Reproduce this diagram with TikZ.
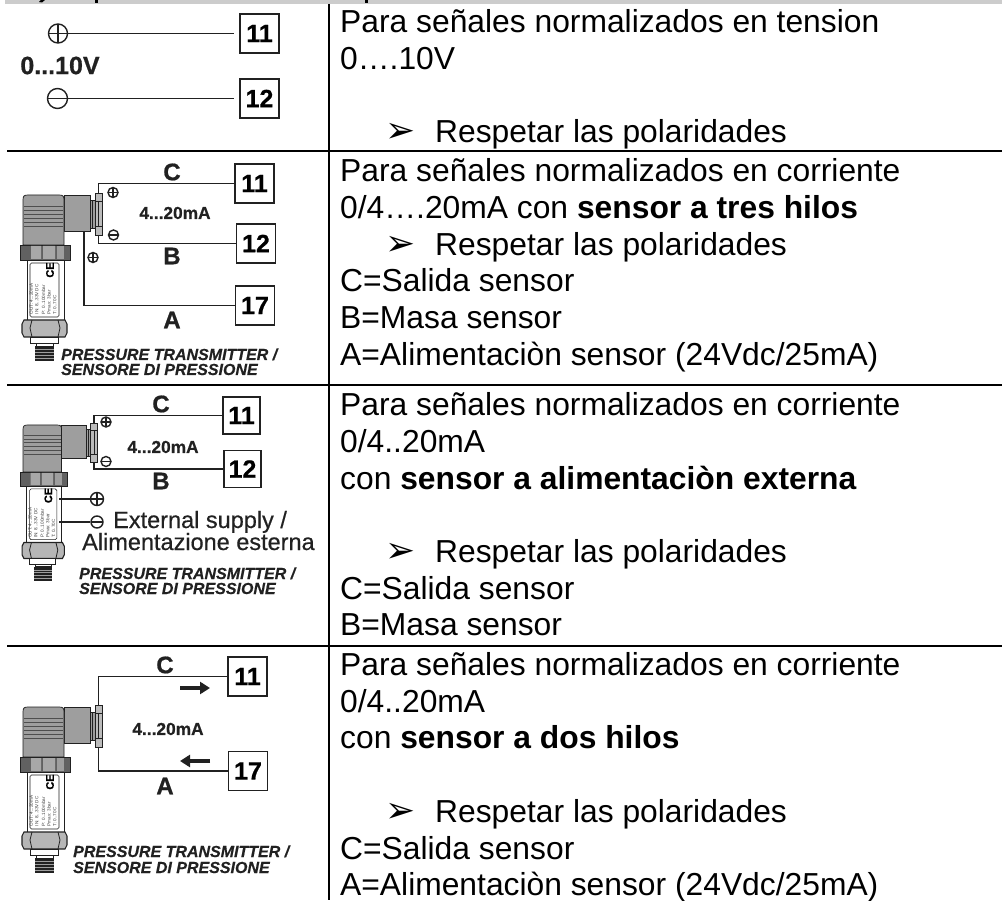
\documentclass[tikz,border=0pt]{standalone}
\usepackage{fontspec}
\setmainfont{Liberation Sans}
\newfontfamily\djv{DejaVu Sans}
\newfontfamily\hv{Liberation Sans Bold}[FakeBold=0.7]
\newfontfamily\hvi{Liberation Sans Bold Italic}[FakeBold=0.4]
\newfontfamily\hvr{Liberation Sans}[FakeBold=0.5]
\usetikzlibrary{arrows.meta}
\definecolor{bandgray}{gray}{0.8}
\definecolor{bodygray}{gray}{0.62}
\definecolor{darkgray1}{gray}{0.38}
\definecolor{wirec}{gray}{0.13}
\tikzset{
  tl/.style={anchor=base west,inner sep=0pt,font=\fontsize{31.8}{37}\selectfont},
  tb/.style={draw=wirec,line width=1.5pt,fill=white,inner sep=0pt,font=\hv\fontsize{25}{26}\selectfont},
  wire/.style={draw=wirec,line width=1.6pt},
  rule/.style={draw=black,line width=2pt},
  big/.style={inner sep=0pt,font=\hv\fontsize{24}{26}\selectfont,text=wirec},
  ma/.style={inner sep=0pt,font=\hv\fontsize{17.3}{18}\selectfont,text=wirec},
  ital/.style={inner sep=0pt,anchor=base west,font=\hvi\fontsize{16}{17}\selectfont,text=wirec},
  polp/.style={circle,draw=wirec,line width=1.4pt,fill=white,inner sep=0pt,path picture={
    \draw[wirec,line width=1.3pt] (path picture bounding box.west)--(path picture bounding box.east)
      (path picture bounding box.north)--(path picture bounding box.south);}},
  polm/.style={circle,draw=wirec,line width=1.4pt,fill=white,inner sep=0pt,path picture={
    \draw[wirec,line width=1.3pt] (path picture bounding box.west)--(path picture bounding box.east);}},
  bull/.style={inner sep=0pt,anchor=base west,font=\djv\fontsize{36}{36}\selectfont},
  sensor/.pic={
    % side housing
    \draw[wirec,line width=.7pt,fill=bodygray] (41,0) -- (67,0) -- (67,36) -- (41,36) -- cycle;
    % gland
    \draw[wirec,line width=.6pt,fill=bodygray] (67,5) rectangle (72,33);
    \draw[wirec,line width=.5pt] (69.5,5) -- (69.5,33);
    % terminal strip
    \draw[wirec,line width=.9pt,fill=bodygray!70] (72,-2) rectangle (79,40);
    \draw[wirec,line width=.7pt] (72,6) -- (79,6) (72,31) -- (79,31) (75.5,6) -- (75.5,31);
    % dome
    \draw[wirec,line width=.7pt,fill=bodygray] (0,50) -- (0,5) .. controls (0,1) and (1,0) .. (5,0) -- (36,0) .. controls (40,0) and (41,1) .. (41,5) -- (41,50) -- cycle;
    \foreach \yy in {11,15,19,23,27,31}{\draw[wirec!80,line width=.9pt] (1,\yy) -- (40,\yy);}
    % nut
    \draw[wirec,line width=.7pt,fill=darkgray1] (-3,50) rectangle (47,65);
    \fill[bodygray!90] (8,51) rectangle (18,64) (20,51) rectangle (32,64);
    \fill[bodygray] (34,51) rectangle (41,64);
    % body
    \draw[wirec,line width=.9pt,fill=white] (4,65) rectangle (41,125);
    \draw[wirec,line width=.6pt,rounded corners=1.5pt,fill=white] (7,68) rectangle (36,122);
    \node[inner sep=0pt,rotate=90,font=\hv\fontsize{11}{11}\selectfont] (-ce) at (27,75) {CE};
    \node[inner sep=0pt,rotate=90,align=left,anchor=center,text=black!75,font=\fontsize{4.6}{5.6}\selectfont] (-lab) at (20,104) {OUT: 4...20mA\\IN: 8...33V DC\\[1pt]P: 0..100mbar\\Pmax: 3bar\\T: 0..70C};
    % hex
    \draw[wirec,line width=1.1pt,fill=bodygray!75] (1,125) -- (42,125) -- (44,129) -- (44,138) -- (42,142) -- (1,142) -- (-1,138) -- (-1,129) -- cycle;
    \draw[wirec,line width=.8pt] (9,125) -- (7,133) -- (9,142) (35,125) -- (37,133) -- (35,142);
    % collar
    \draw[wirec,line width=.9pt,fill=white] (7,142) rectangle (35,148);
    \draw[wirec,line width=.9pt,fill=white] (13,148) rectangle (30,151);
    % thread
    \fill[wirec] (12,151) rectangle (31,166);
    \foreach \yy in {154,157,160,163}{\draw[bodygray,line width=.5pt] (12,\yy) -- (31,\yy);}
    \coordinate (-top) at (75.5,-2);
    \coordinate (-bot) at (75.5,40);
    \coordinate (-side) at (61,36);
  }
}
\begin{document}
\begin{tikzpicture}[x=1pt,y=-1pt]
\useasboundingbox (0,0) rectangle (1002,901);
\fill[white] (0,0) rectangle (1002,901);
% header band with the cut-off descenders of its title
\fill[bandgray] (5,0) rectangle (1002,4);
\fill[black] (39,2) -- (41,0) -- (45,0) -- (42,2.5) -- cycle;
\fill[black] (95,0) rectangle (98,3);
\fill[black] (365,0) rectangle (368,3);
% table rules
\coordinate (vt) at (328.5,4); \coordinate (vb) at (328.5,900);
\draw[rule] (vt) -- (vb);
\foreach \yy in {151.5,385.5,645.5}{\draw[rule] (7,\yy) -- (1002,\yy);}

% ---- row 1
\node[tb,minimum width=39pt,minimum height=39pt] (b1a) at (259.5,33.5) {11};
\node[tb,minimum width=39pt,minimum height=39pt] (b1b) at (259.5,98.5) {12};
\node[polp,minimum size=19pt] (p1) at (58,33.5) {};
\node[polm,minimum size=20pt] (m1) at (57.5,98.5) {};
\draw[wire,shorten >=5pt] (p1) -- (b1a);
\draw[wire,shorten >=5pt] (m1) -- (b1b);
\node[inner sep=0pt,font=\hv\fontsize{25}{26}\selectfont,text=wirec] (v1) at (60,65.5) {0...10V};

% ---- row 2
\pic (s2) at (23,195) {sensor};
\node[tb,minimum width=39pt,minimum height=39pt] (b2a) at (254.5,183.5) {11};
\node[tb,minimum width=39pt,minimum height=39pt] (b2b) at (256,243.5) {12};
\node[tb,minimum width=39pt,minimum height=39pt] (b2c) at (255,305.5) {17};
\draw[wire] (s2-top) |- (b2a.west);
\draw[wire] (s2-bot) |- (b2b.west);
\draw[wire] (s2-side) |- (b2c.west);
\node[big] (c2) at (172,172) {C};
\node[big] (bb2) at (172,256) {B};
\node[big] (a2) at (172,320) {A};
\node[ma] (ma2) at (175,213) {4...20mA};
\node[polp,minimum size=10pt] (p2a) at (113,192.5) {};
\node[polm,minimum size=10pt] (m2a) at (113.5,235) {};
\node[polp,minimum size=10pt] (p2b) at (93,257.5) {};
\node[ital] (i2a) at (61,360) {PRESSURE TRANSMITTER /};
\node[ital] (i2b) at (61,375) {SENSORE DI PRESSIONE};

% ---- row 3
\pic[scale=0.94] (s3) at (23,425) {sensor};
\node[tb,minimum width=37pt,minimum height=37pt] (b3a) at (241.5,415.5) {11};
\node[tb,minimum width=37pt,minimum height=37pt] (b3b) at (242.5,469) {12};
\draw[wire] (s3-top) |- (b3a.west);
\draw[wire] (s3-bot) |- (b3b.west);
\node[big] (c3) at (161,404) {C};
\node[big] (bb3) at (161,481) {B};
\node[ma] (ma3) at (163,447) {4...20mA};
\node[polp,minimum size=10pt] (p3a) at (106,422) {};
\node[polm,minimum size=10pt] (m3a) at (106,461.5) {};
\node[polp,minimum size=13pt] (p3b) at (97,499) {};
\node[polm,minimum size=12pt] (m3b) at (97,522) {};
\coordinate (e3a) at (59,499);
\coordinate (e3b) at (59,522);
\draw[wire,line width=1.2pt] (e3a) -- (p3b);
\draw[wire,line width=1.2pt] (e3b) -- (m3b);
\node[inner sep=0pt,anchor=base west,font=\hvr\fontsize{23.5}{26}\selectfont,text=wirec] (x3a) at (113,528) {External supply /};
\node[inner sep=0pt,anchor=base west,font=\hvr\fontsize{23.5}{26}\selectfont,text=wirec] (x3b) at (82,550) {Alimentazione esterna};
\node[ital] (i3a) at (79,579) {PRESSURE TRANSMITTER /};
\node[ital] (i3b) at (79,594) {SENSORE DI PRESSIONE};

% ---- row 4
\pic (s4) at (23,707) {sensor};
\node[tb,minimum width=39pt,minimum height=39pt] (b4a) at (247.5,676.5) {11};
\node[tb,minimum width=39pt,minimum height=39pt] (b4b) at (248,771) {17};
\draw[wire] (s4-top) |- (b4a.west);
\draw[wire] (s4-bot) |- (b4b.west);
\node[big] (c4) at (165,665) {C};
\node[big] (a4) at (165,786) {A};
\node[ma] (ma4) at (168,729) {4...20mA};
\coordinate (f1) at (180,688); \coordinate (f2) at (210,688);
\coordinate (g1) at (210,761); \coordinate (g2) at (180,761);
\draw[wirec,line width=3.6pt,-{Triangle[length=10pt,width=12pt]}] (f1) -- (f2);
\draw[wirec,line width=3.6pt,-{Triangle[length=10pt,width=12pt]}] (g1) -- (g2);
\node[ital] (i4a) at (73,857) {PRESSURE TRANSMITTER /};
\node[ital] (i4b) at (73,873) {SENSORE DI PRESSIONE};

% ---- right column
\node[tl] (t11) at (340,33) {Para señales normalizados en tension};
\node[tl] (t12) at (340,70) {0….10V};
\node[bull] (a14) at (385,143) {➢};
\node[tl] (t14) at (435,143) {Respetar las polaridades};

\node[tl] (t21) at (340,182) {Para señales normalizados en corriente};
\node[tl] (t22) at (340,219) {0/4….20mA con \textbf{sensor a tres hilos}};
\node[bull] (a23) at (385,256) {➢};
\node[tl] (t23) at (435,256) {Respetar las polaridades};
\node[tl] (t24) at (340,292) {C=Salida sensor};
\node[tl] (t25) at (340,329) {B=Masa sensor};
\node[tl] (t26) at (340,366) {A=Alimentaciòn sensor (24Vdc/25mA)};

\node[tl] (t31) at (340,415) {Para señales normalizados en corriente};
\node[tl] (t32) at (340,452) {0/4..20mA};
\node[tl] (t33) at (340,489) {con \textbf{sensor a alimentaciòn externa}};
\node[bull] (a35) at (385,562) {➢};
\node[tl] (t35) at (435,562) {Respetar las polaridades};
\node[tl] (t36) at (340,599) {C=Salida sensor};
\node[tl] (t37) at (340,635) {B=Masa sensor};

\node[tl] (t41) at (340,675) {Para señales normalizados en corriente};
\node[tl] (t42) at (340,712) {0/4..20mA};
\node[tl] (t43) at (340,748) {con \textbf{sensor a dos hilos}};
\node[bull] (a45) at (385,822) {➢};
\node[tl] (t45) at (435,822) {Respetar las polaridades};
\node[tl] (t46) at (340,859) {C=Salida sensor};
\node[tl] (t47) at (340,895) {A=Alimentaciòn sensor (24Vdc/25mA)};
\end{tikzpicture}
\end{document}
